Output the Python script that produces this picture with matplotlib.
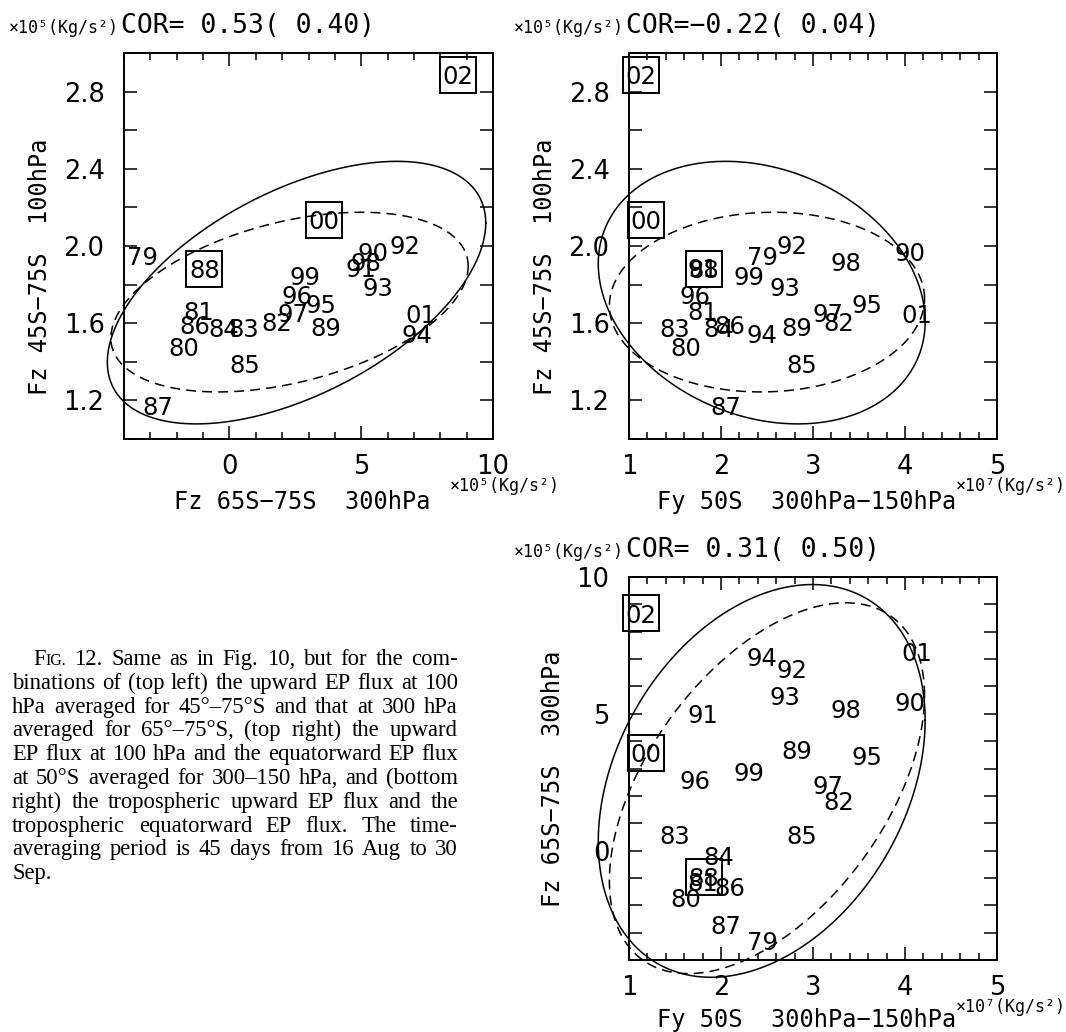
import numpy as np
import matplotlib
matplotlib.use('Agg')
import matplotlib.pyplot as plt
from matplotlib.ticker import MultipleLocator

# ---------------- data ----------------
years = ['79', '80', '81', '82', '83', '84', '85', '86', '87', '88', '89', '90',
         '91', '92', '93', '94', '95', '96', '97', '98', '99', '00', '01', '02']
# Fz 45S-75S 100hPa  (x1e5 Kg/s2)
fz100_45_75 = [1.95, 1.48, 1.665, 1.607, 1.575, 1.575, 1.39, 1.593, 1.17, 1.88, 1.582, 1.968,
               1.885, 2.008, 1.79, 1.545, 1.70, 1.746, 1.655, 1.92, 1.848, 2.133, 1.65, 2.887]
# Fz 65S-75S 300hPa  (x1e5 Kg/s2)
fz300_65_75 = [-3.3, -1.72, -1.15, 1.8, 0.56, -0.2, 0.57, -1.33, -2.7, -0.95, 3.67, 5.45,
               5.0, 6.65, 5.64, 7.1, 3.47, 2.57, 2.4, 5.19, 2.86, 3.58, 7.28, 8.67]
# Fy 50S 300hPa-150hPa  (x1e7 Kg/s2)
fy50_300_150 = [2.45, 1.62, 1.8, 3.28, 1.5, 1.98, 2.88, 2.1, 2.05, 1.81, 2.82, 4.05,
                1.8, 2.77, 2.7, 2.44, 3.59, 1.72, 3.16, 3.36, 2.3, 1.18, 4.13, 1.13]
boxed_years = ['88', '00', '02']
excluded_year = '02'
cor_all = [0.53, -0.22, 0.31]
cor_excl = [0.40, 0.04, 0.50]

fz100_ticklabels = ['1.2', '1.6', '2.0', '2.4', '2.8']
fz300_ticklabels = ['0', '5', '10']
fy50_ticklabels = ['1', '2', '3', '4', '5']

label_fz100 = 'Fz 45S\u221275S  100hPa'
label_fz300 = 'Fz 65S\u221275S  300hPa'
label_fy50 = 'Fy 50S  300hPa\u2212150hPa'
unit5 = '\u00d710\u2075(Kg/s\u00b2)'
unit7 = '\u00d710\u2077(Kg/s\u00b2)'

caption_lines = [
    'FIG. 12. Same as in Fig. 10, but for the com-',
    'binations of (top left) the upward EP flux at 100',
    'hPa averaged for 45\u00b0\u201375\u00b0S and that at 300 hPa',
    'averaged for 65\u00b0\u201375\u00b0S, (top right) the upward',
    'EP flux at 100 hPa and the equatorward EP flux',
    'at 50\u00b0S averaged for 300\u2013150 hPa, and (bottom',
    'right) the tropospheric upward EP flux and the',
    'tropospheric equatorward EP flux. The time-',
    'averaging period is 45 days from 16 Aug to 30',
    'Sep.',
]

# ---------------- figure ----------------
W, H = 1066, 1032
DPI = 100
fig = plt.figure(figsize=(W / DPI, H / DPI), dpi=DPI, facecolor='white')

MONO = 'DejaVu Sans Mono'
SANS = 'DejaVu Sans'
K90 = np.sqrt(-2.0 * np.log(0.1))   # 90 % probability ellipse


def ftext(x, y, s, **kw):
    return fig.text(x / W, 1 - y / H, s, **kw)


def ellipse(xv, yv, r):
    xv = np.asarray(xv, float)
    yv = np.asarray(yv, float)
    t = np.linspace(0, 2 * np.pi, 500)
    ex = xv.mean() + K90 * xv.std() * np.cos(t)
    ey = yv.mean() + K90 * yv.std() * (r * np.cos(t) + np.sqrt(1 - r * r) * np.sin(t))
    return ex, ey


panels = [
    dict(box=(124, 53, 493, 439), x=fz300_65_75, y=fz100_45_75,
         xlim=(-4, 10), ylim=(1, 3), xt=fz300_ticklabels, xmin=1.0, xminlen=4.8,
         yt=fz100_ticklabels, ymin=0.2, xlabel=label_fz300, ylabel=label_fz100,
         xunit=unit5, yunit=unit5, xunit_x=450, ylabel_x=40, ylab_dy=21, xlab_dy=63),
    dict(box=(629, 53, 997, 439), x=fy50_300_150, y=fz100_45_75,
         xlim=(1, 5), ylim=(1, 3), xt=fy50_ticklabels, xmin=0.2, xminlen=4.8,
         yt=fz100_ticklabels, ymin=0.2, xlabel=label_fy50, ylabel=label_fz100,
         xunit=unit7, yunit=unit5, xunit_x=956, ylabel_x=545, ylab_dy=21, xlab_dy=63),
    dict(box=(629, 577, 997, 960), x=fy50_300_150, y=fz300_65_75,
         xlim=(1, 5), ylim=(-4, 10), xt=fy50_ticklabels, xmin=0.2, xminlen=4.8,
         yt=fz300_ticklabels, ymin=1.0, xlabel=label_fy50, ylabel=label_fz300,
         xunit=unit7, yunit=unit5, xunit_x=956, ylabel_x=553, ylab_dy=10, xlab_dy=60),
]

for i, p in enumerate(panels):
    l, t, r, b = p['box']
    ax = fig.add_axes([l / W, 1 - b / H, (r - l) / W, (b - t) / H])
    ax.set_xlim(*p['xlim'])
    ax.set_ylim(*p['ylim'])
    for s in ax.spines.values():
        s.set_linewidth(1.4)

    ax.set_xticks([float(v) for v in p['xt']])
    ax.set_xticklabels(p['xt'])
    ax.set_yticks([float(v) for v in p['yt']])
    ax.set_yticklabels(p['yt'])
    ax.xaxis.set_minor_locator(MultipleLocator(p['xmin']))
    ax.yaxis.set_minor_locator(MultipleLocator(p['ymin']))
    ax.tick_params(which='both', direction='in', top=True, right=True, width=1.1)
    ax.tick_params(axis='x', which='major', length=9.4, pad=11.0, labelsize=18.5)
    ax.tick_params(axis='x', which='minor', length=p['xminlen'])
    ax.tick_params(axis='y', which='both', length=9.4)
    ax.tick_params(axis='y', which='major', pad=14.0, labelsize=18.5)
    for lab in ax.get_xticklabels() + ax.get_yticklabels():
        lab.set_family(SANS)

    xv = np.asarray(p['x'], float)
    yv = np.asarray(p['y'], float)
    keep = np.array([yr != excluded_year for yr in years])

    ex, ey = ellipse(xv, yv, cor_all[i])
    ax.plot(ex, ey, color='black', lw=1.1, clip_on=False)
    ex, ey = ellipse(xv[keep], yv[keep], cor_excl[i])
    ax.plot(ex, ey, color='black', lw=1.1, ls=(0, (6.5, 4.0)), clip_on=False)

    for yr, xx, yy in zip(years, xv, yv):
        ax.annotate(yr, (xx, yy), xytext=(0, -6.6), textcoords='offset points',
                    ha='center', va='baseline', fontsize=17.5, family=SANS,
                    annotation_clip=False)
        if yr in boxed_years:
            ax.plot([xx], [yy], marker='s', ms=26.4, mfc='none', mec='black',
                    mew=1.4, clip_on=False)

    # titles / units / labels
    title = 'COR=%5.2f(%5.2f)' % (cor_all[i], cor_excl[i])
    title = title.replace('-', '\u2212')
    ftext(l - 5, t - 20, p['yunit'], ha='right', va='baseline', family=MONO, fontsize=12)
    ftext(l - 3, t - 20, title, ha='left', va='baseline', family=MONO, fontsize=19)
    ftext(p['xunit_x'], b + 52, p['xunit'], ha='left', va='baseline', family=MONO, fontsize=12)
    ftext((l + r) / 2 - 6, b + p['xlab_dy'], p['xlabel'], ha='center', va='center',
          family=MONO, fontsize=17)
    ftext(p['ylabel_x'], (t + b) / 2 + p['ylab_dy'], p['ylabel'], ha='center', va='center',
          rotation=90, family=MONO, fontsize=17)

# ---------------- caption (justified) ----------------
renderer = fig.canvas.get_renderer()
CAP = 16.3
SC = 11.5
SERIF = 'Liberation Serif'
space_px = 0.25 * CAP * DPI / 72


def place_line(text, x0, x1, base_y, justify):
    items = []
    for w in text.split(' '):
        parts = [('F', CAP), ('IG.', SC)] if w == 'FIG.' else [(w, CAP)]
        objs = []
        wsum = 0.0
        for s, sz in parts:
            tx = fig.text(0, 0, s, fontsize=sz, family=SERIF, va='baseline', ha='left')
            wpx = tx.get_window_extent(renderer).width
            objs.append((tx, wpx))
            wsum += wpx
        items.append((objs, wsum))
    total = sum(wv for _, wv in items)
    n = len(items)
    gap = (x1 - x0 - total) / (n - 1) if (justify and n > 1) else space_px
    x = x0
    for objs, wsum in items:
        xx = x
        for tx, wpx in objs:
            tx.set_position((xx / W, 1 - base_y / H))
            xx += wpx
        x += wsum + gap


for k, line in enumerate(caption_lines):
    x0 = 33 if k == 0 else 12
    place_line(line, x0, 458, 665 + k * 23.8, justify=(k < len(caption_lines) - 1))

fig.savefig('out.png', dpi=DPI, facecolor='white')
